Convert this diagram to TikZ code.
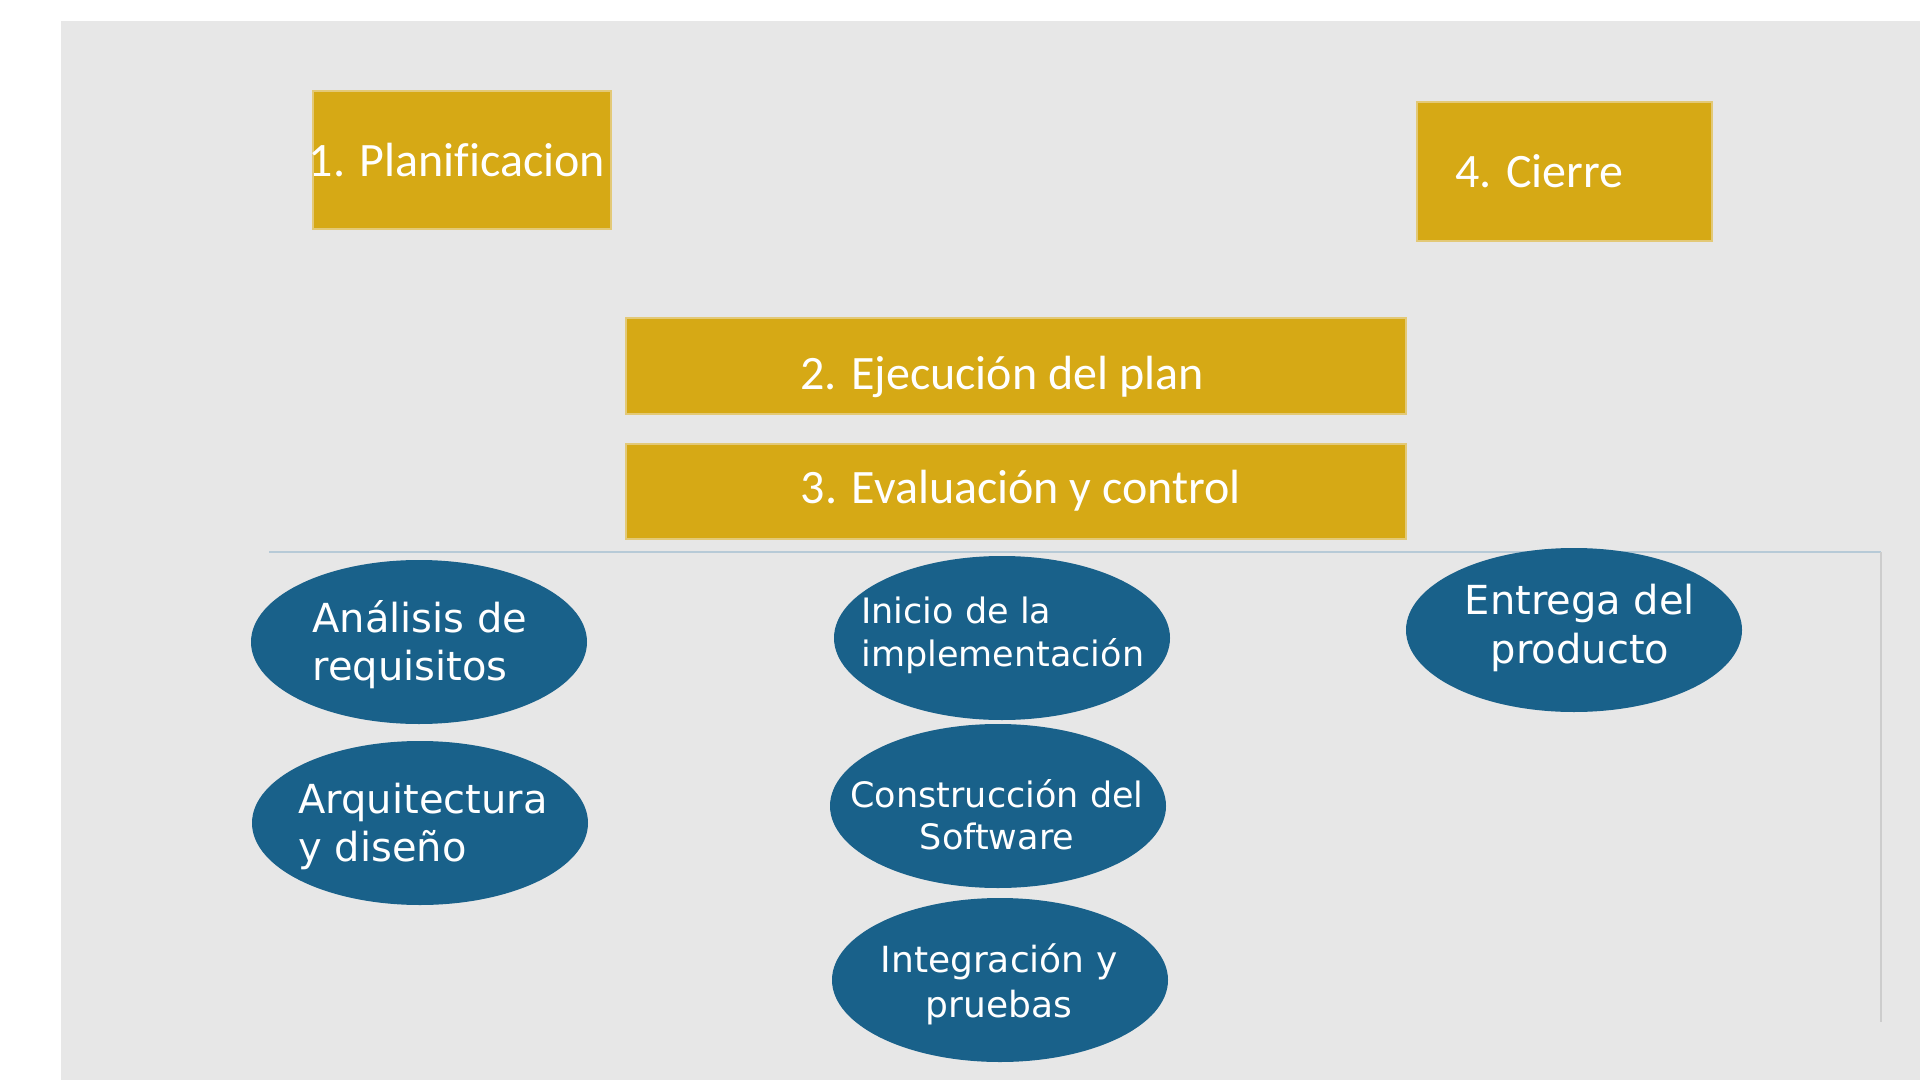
\documentclass[tikz,border=0pt]{standalone}
\usepackage{fontspec}
\setmainfont{DejaVu Sans}
\newfontfamily\boxfont[Ligatures=NoCommon]{Carlito}
\usetikzlibrary{shapes.geometric}
\definecolor{bggray}{HTML}{E7E7E7}
\definecolor{gold}{HTML}{D6A915}
\definecolor{goldedge}{HTML}{E3C977}
\definecolor{navy}{HTML}{19618A}
\definecolor{rulebl}{HTML}{B7CAD7}
\definecolor{rulegr}{HTML}{CDCDCD}
\begin{document}
\begin{tikzpicture}[x=0.5pt,y=-0.5pt,
  phase/.style={draw=goldedge, line width=0.75pt, fill=gold, inner sep=0pt, shape=rectangle},
  phasetext/.style={text=white, inner sep=0pt, font=\boxfont\fontsize{24}{28}\selectfont},
  task/.style={shape=ellipse, fill=navy, draw=none, inner sep=0pt, minimum width=168pt, minimum height=82pt},
  tasktext/.style={text=white, inner sep=0pt}]
\useasboundingbox (0,0) rectangle (1920,1080);
\fill[bggray] (61,21) rectangle (1920,1080);
% frame lines
\coordinate (ruleL) at (269,552);
\coordinate (ruleC) at (1881,552);
\coordinate (ruleB) at (1881,1022);
\draw[rulebl, line width=0.75pt] (ruleL) -- (ruleC);
\draw[rulegr, line width=0.75pt] (ruleC) -- (ruleB);
% phase boxes
\node[phase, minimum width=149pt, minimum height=69pt] (p1) at (462,160) {};
\node[phase, minimum width=147.5pt, minimum height=69.5pt] (p4) at (1564.5,171.5) {};
\node[phase, minimum width=390pt, minimum height=48pt] (p2) at (1016,366) {};
\node[phase, minimum width=390pt, minimum height=47.5pt] (p3) at (1016,491.5) {};
\node[phasetext, anchor=base] (t1) at (457,177) {1. Planificacion};
\node[phasetext, anchor=base west] (t4) at (1455,188) {4. Cierre};
\node[phasetext, anchor=base] (t2) at (1002,389) {2. Ejecución del plan};
\node[phasetext, anchor=base] (t3) at (1021,503) {3. Evaluación y control};
% tasks
\node[task] (eA) at (419,642) {};
\node[task] (eB) at (420,823) {};
\node[task] (eC) at (1002,638) {};
\node[task] (eD) at (998,806) {};
\node[task] (eE) at (1000,980) {};
\node[task] (eF) at (1574,630) {};
\node[tasktext, align=left, anchor=west, font=\fontsize{20}{24}\selectfont] (tA) at (312,645) {Análisis de\\requisitos};
\node[tasktext, align=left, anchor=west, font=\fontsize{20}{24}\selectfont] (tB) at (298,826) {Arquitectura\\y diseño};
\node[tasktext, align=left, anchor=west, font=\fontsize{17.5}{21.5}\selectfont] (tC) at (861,635) {Inicio de la\\implementación};
\node[tasktext, align=center, font=\fontsize{17.5}{21}\selectfont] (tD) at (997,815) {Construcción del\\Software};
\node[tasktext, align=center, font=\fontsize{18}{22.5}\selectfont] (tE) at (999,984) {Integración y\\pruebas};
\node[tasktext, align=center, font=\fontsize{20}{24.5}\selectfont] (tF) at (1580,628) {Entrega del\\producto};
\end{tikzpicture}
\end{document}
